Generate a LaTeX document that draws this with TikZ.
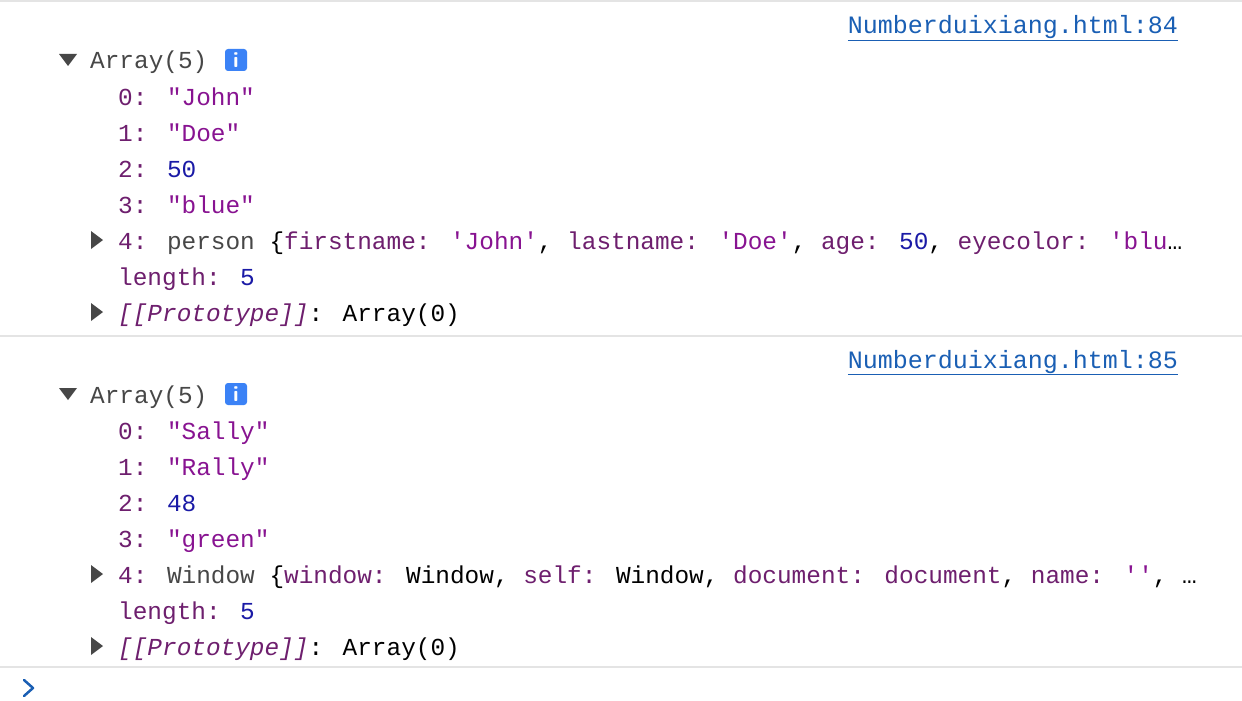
\documentclass[tikz,border=0pt]{standalone}
\usepackage{fontspec}
\newfontfamily\cmono{Liberation Mono}
\definecolor{keyc}{HTML}{6E1F6E}
\definecolor{strc}{HTML}{881391}
\definecolor{numc}{HTML}{1A1AA6}
\definecolor{grayc}{HTML}{474747}
\definecolor{linkc}{HTML}{1A5FB4}
\definecolor{sepc}{HTML}{E4E4E4}
\definecolor{infoc}{HTML}{3B82F6}
\newcommand{\K}[1]{\textcolor{keyc}{#1}}
\newcommand{\St}[1]{\textcolor{strc}{#1}}
\newcommand{\N}[1]{\textcolor{numc}{#1}}
\newcommand{\G}[1]{\textcolor{grayc}{#1}}
\begin{document}
\begin{tikzpicture}[x=1pt,y=-1pt,
  txt/.style={anchor=base west,inner sep=0pt,font=\cmono\fontsize{24.4}{28}\selectfont,text=black},
  lnk/.style={anchor=base east,inner sep=0pt,font=\cmono\fontsize{25}{28}\selectfont,text=linkc},
  sep/.style={draw=sepc,line width=1.2pt},
  tri/.style={fill=grayc,draw=none}]
\useasboundingbox (0,0) rectangle (1242,701);
\fill[white] (0,0) rectangle (1242,701);
\draw[sep] (0,1) -- (1242,1);
\draw[sep] (0,336) -- (1242,336);
\draw[sep] (0,667) -- (1242,667);
% block 1
\node[lnk] (l1) at (1178,34) {\underline{Numberduixiang.html:84}};
\fill[tri] (59,54) -- (77,54) -- (68,66) -- cycle;
\node[txt] (a1) at (90,69) {\G{Array(5)}};
\fill[infoc,rounded corners=3pt] (225,49) rectangle (247,71);
\node[font=\sffamily\bfseries\fontsize{22}{22}\selectfont,text=white,inner sep=0pt] (i1) at (236,60) {i};
\node[txt] (r10) at (118,105) {\K{0:} \St{"John"}};
\node[txt] (r11) at (118,141) {\K{1:} \St{"Doe"}};
\node[txt] (r12) at (118,177) {\K{2:} \N{50}};
\node[txt] (r13) at (118,213) {\K{3:} \St{"blue"}};
\fill[tri] (91,231) -- (91,249) -- (103,240) -- cycle;
\node[txt] (r14) at (118,249) {\K{4:} \G{person} \{\K{firstname:} \St{'John'}, \K{lastname:} \St{'Doe'}, \K{age:} \N{50}, \K{eyecolor:} \St{'blu}…};
\node[txt] (r15) at (118,285) {\K{length:} \N{5}};
\fill[tri] (91,303) -- (91,321) -- (103,312) -- cycle;
\node[txt] (r16) at (118,321) {\textit{\K{[[Prototype]]}}: Array(0)};
% block 2
\node[lnk] (l2) at (1178,368) {\underline{Numberduixiang.html:85}};
\fill[tri] (59,388) -- (77,388) -- (68,400) -- cycle;
\node[txt] (a2) at (90,403) {\G{Array(5)}};
\fill[infoc,rounded corners=3pt] (225,383) rectangle (247,405);
\node[font=\sffamily\bfseries\fontsize{22}{22}\selectfont,text=white,inner sep=0pt] (i2) at (236,394) {i};
\node[txt] (r20) at (118,439) {\K{0:} \St{"Sally"}};
\node[txt] (r21) at (118,475) {\K{1:} \St{"Rally"}};
\node[txt] (r22) at (118,511) {\K{2:} \N{48}};
\node[txt] (r23) at (118,547) {\K{3:} \St{"green"}};
\fill[tri] (91,565) -- (91,583) -- (103,574) -- cycle;
\node[txt] (r24) at (118,583) {\K{4:} \G{Window} \{\K{window:} Window, \K{self:} Window, \K{document:} \K{document}, \K{name:} \St{''}, …};
\node[txt] (r25) at (118,619) {\K{length:} \N{5}};
\fill[tri] (91,637) -- (91,655) -- (103,646) -- cycle;
\node[txt] (r26) at (118,655) {\textit{\K{[[Prototype]]}}: Array(0)};
\draw[linkc,line width=2.5pt,line cap=round,line join=round] (24,680) -- (33,688) -- (24,696);
\end{tikzpicture}
\end{document}
